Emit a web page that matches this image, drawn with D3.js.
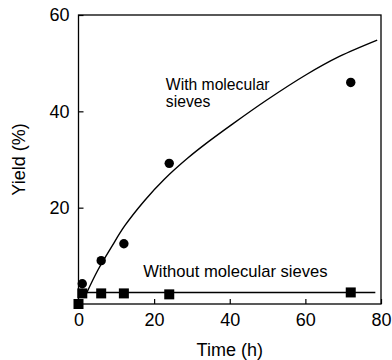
<!DOCTYPE html>
<html>
<head>
<meta charset="utf-8">
<script src="https://cdn.jsdelivr.net/npm/d3@7"></script>
<style>
  body { margin: 0; background: #fff; }
  text { font-family: "Liberation Sans", Arial, sans-serif; fill: #000; }
</style>
</head>
<body>
<div id="chart"></div>
<script>
// measured points
let withTime = [1, 6, 12, 24, 72];
let withYield = [4.2, 9.0, 12.5, 29.2, 46.0];

let withoutTime = [0, 1, 6, 12, 24, 72];
let withoutYield = [0, 2.2, 2.2, 2.2, 2.0, 2.4];

// fitted curves
let fitWithTime = [2.1, 5.1, 8.7, 12.2, 17.5, 22.7, 28.9, 34.2, 40.8, 49.7, 60.2, 69, 79];
let fitWithYield = [2.2, 7.0, 11.8, 16.2, 21.5, 25.9, 30.3, 33.6, 37.4, 42.3, 47.6, 51.4, 54.8];

let fitWithoutTime = [0, 78.5];
let fitWithoutYield = [2.4, 2.4];

let xTicks = [0, 20, 40, 60, 80];
let yTicks = [20, 40, 60];

let width = 392;
let height = 360;
let margin = { top: 15, right: 11, bottom: 56, left: 78.5 };

let svg = d3.select("#chart")
            .append("svg")
            .attr("width", width)
            .attr("height", height);

let x = d3.scaleLinear().domain([0, 80]).range([margin.left, width - margin.right]);
let y = d3.scaleLinear().domain([0, 60]).range([height - margin.bottom, margin.top]);

// frame
svg.append("rect")
   .attr("x", x(0))
   .attr("y", y(60))
   .attr("width", x(80) - x(0))
   .attr("height", y(0) - y(60))
   .attr("fill", "none")
   .attr("stroke", "#000")
   .attr("stroke-width", 1.3);

let xAxis = svg.append("g")
    .attr("transform", "translate(0," + y(0) + ")")
    .call(d3.axisBottom(x).tickValues(xTicks).tickSizeInner(-5).tickSizeOuter(0).tickPadding(9));

let yAxis = svg.append("g")
    .attr("transform", "translate(" + x(0) + ",0)")
    .call(d3.axisLeft(y).tickValues(yTicks).tickSizeInner(-5).tickSizeOuter(0).tickPadding(9));

[xAxis, yAxis].forEach(function(g) {
    g.select(".domain").remove();
    g.selectAll("line").attr("stroke", "#000").attr("stroke-width", 1.2);
    g.selectAll("text").attr("font-size", 18).attr("font-family", "Liberation Sans, Arial, sans-serif");
});

svg.append("text")
   .attr("x", (x(0) + x(80)) / 2)
   .attr("y", 356)
   .attr("text-anchor", "middle")
   .attr("font-size", 18)
   .text("Time (h)");

svg.append("text")
   .attr("transform", "translate(25," + ((y(0) + y(60)) / 2) + ") rotate(-90)")
   .attr("text-anchor", "middle")
   .attr("font-size", 18)
   .text("Yield (%)");

// fitted lines
let line = d3.line()
    .x(function(d) { return x(d[0]); })
    .y(function(d) { return y(d[1]); })
    .curve(d3.curveCatmullRom.alpha(0.5));

svg.append("path")
   .datum(d3.zip(fitWithTime, fitWithYield))
   .attr("d", line)
   .attr("fill", "none")
   .attr("stroke", "#000")
   .attr("stroke-width", 1.4);

svg.append("path")
   .datum(d3.zip(fitWithoutTime, fitWithoutYield))
   .attr("d", line)
   .attr("fill", "none")
   .attr("stroke", "#000")
   .attr("stroke-width", 1.4);

// markers
svg.append("g")
   .selectAll("circle")
   .data(d3.zip(withTime, withYield))
   .enter()
   .append("circle")
   .attr("cx", function(d) { return x(d[0]); })
   .attr("cy", function(d) { return y(d[1]); })
   .attr("r", 4.7)
   .attr("fill", "#000");

let sq = 10;
svg.append("g")
   .selectAll("rect")
   .data(d3.zip(withoutTime, withoutYield))
   .enter()
   .append("rect")
   .attr("x", function(d) { return x(d[0]) - sq / 2; })
   .attr("y", function(d) { return y(d[1]) - sq / 2; })
   .attr("width", sq)
   .attr("height", sq)
   .attr("fill", "#000");

// labels
svg.append("text")
   .attr("x", x(23.1))
   .attr("y", y(44.4))
   .attr("font-size", 15.7)
   .text("With molecular");

svg.append("text")
   .attr("x", x(23.1))
   .attr("y", y(40.9))
   .attr("font-size", 15.7)
   .text("sieves");

svg.append("text")
   .attr("x", x(17.1))
   .attr("y", y(5.6))
   .attr("font-size", 16.6)
   .text("Without molecular sieves");
</script>
</body>
</html>
